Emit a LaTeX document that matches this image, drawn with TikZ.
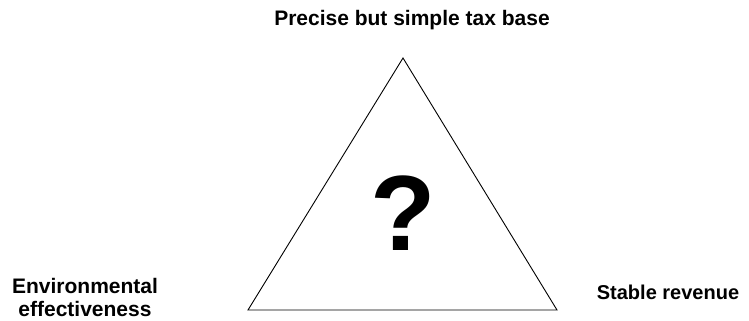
\documentclass[tikz,border=0pt]{standalone}
\usepackage{fontspec}
\setmainfont{Liberation Sans}
\begin{document}
\begin{tikzpicture}[x=1pt,y=-1pt,
  lbl/.style={font=\bfseries\fontsize{21}{24}\selectfont, inner sep=0pt, anchor=base},
  tri/.style={draw=black, line width=0.9pt, line join=miter}]
\useasboundingbox (0,0) rectangle (749,321);
\coordinate (apex) at (403,58);
\coordinate (bl) at (248,310);
\coordinate (br) at (557,310);
\draw[tri] (apex) -- (bl) -- (br) -- cycle;
\node[inner sep=0pt, anchor=base, font=\bfseries\fontsize{107}{107}\selectfont] (q) at (403,250) {?};
\node[lbl] (top) at (412,26) {Precise but simple tax base};
\node[lbl] (env1) at (85,293) {Environmental};
\node[lbl] (env2) at (85,316) {effectiveness};
\node[lbl, font=\bfseries\fontsize{20}{24}\selectfont] (rev) at (668,299) {Stable revenue};
\end{tikzpicture}
\end{document}
